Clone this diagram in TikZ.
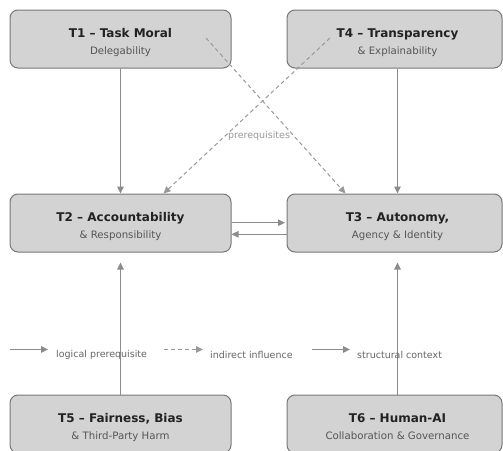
\documentclass[tikz,border=0pt]{standalone}
\usepackage{fontspec}
\setmainfont{DejaVu Sans}
\usetikzlibrary{arrows.meta,calc}
\definecolor{boxfill}{HTML}{D3D3D3}
\definecolor{boxline}{HTML}{777777}
\definecolor{arr}{HTML}{8C8C8C}
\definecolor{ttl}{HTML}{222222}
\definecolor{subc}{HTML}{555555}
\definecolor{lgd}{HTML}{666666}
\definecolor{prq}{HTML}{999999}
\begin{document}
\begin{tikzpicture}[x=1pt,y=-1pt,
  box/.style={draw=boxline, fill=boxfill, rounded corners=8pt, line width=1pt,
    minimum height=58pt, inner sep=0pt},
  lbox/.style={box, minimum width=221pt},
  rbox/.style={box, minimum width=215pt},
  ttlt/.style={anchor=base, inner sep=0pt, text=ttl, font=\fontsize{12}{14}\selectfont\bfseries},
  subt/.style={anchor=base, inner sep=0pt, text=subc, font=\fontsize{10.2}{12}\selectfont},
  lgdt/.style={anchor=west, inner sep=0pt, text=lgd, font=\fontsize{9.5}{11}\selectfont},
  conn/.style={draw=arr, line width=1.1pt, -{Triangle[length=7pt,width=6.5pt]}},
  dconn/.style={draw=prq, line width=1pt, dash pattern=on 4pt off 3pt, -{Triangle[length=7pt,width=6.5pt]}},
]
\useasboundingbox (0,0) rectangle (503,450);
\clip (0,0) rectangle (503,450);
\fill[white] (0,0) rectangle (503,450);

% boxes
\node[lbox] (T1) at (120.5,39) {};
\node[rbox] (T4) at (394.5,39) {};
\node[lbox] (T2) at (120.5,223) {};
\node[rbox] (T3) at (394.5,223) {};
\node[lbox] (T5) at (120.5,424) {};
\node[rbox] (T6) at (394.5,424) {};

% texts
\node[ttlt] (T1a) at (120.5,37.8) {T1 – Task Moral};
\node[subt] (T1b) at (120.5,54.5) {Delegability};
\node[ttlt] (T4a) at (397.5,37.8) {T4 – Transparency};
\node[subt] (T4b) at (397.5,54.5) {\& Explainability};
\node[ttlt] (T2a) at (120.5,221) {T2 – Accountability};
\node[subt] (T2b) at (120.5,238) {\& Responsibility};
\node[ttlt] (T3a) at (397.5,221) {T3 – Autonomy,};
\node[subt] (T3b) at (397.5,238) {Agency \& Identity};
\node[ttlt] (T5a) at (120.5,422) {T5 – Fairness, Bias};
\node[subt] (T5b) at (120.5,439) {\& Third-Party Harm};
\node[ttlt] (T6a) at (397.5,422) {T6 – Human-AI};
\node[subt] (T6b) at (397.5,439) {Collaboration \& Governance};

% solid connectors
\draw[conn] (T1.south) -- (T2.north);
\draw[conn] (T4.south -| T4a.base) -- (T3.north -| T4a.base);
\draw[conn] ($(T2.east)+(0,-0.3)$) -- ($(T3.west)+(-1.5,-0.3)$);
\draw[conn] ($(T3.west)+(0,11.3)$) -- ($(T2.east)+(0,11.3)$);
\draw[conn, shorten >=10pt] (T5.north) -- (T2.south);
\draw[conn, shorten >=10pt] (T6.north -| T6a.base) -- (T3.south -| T6a.base);

% dashed connectors
\coordinate (d1) at (206,38);
\coordinate (d4) at (330,38);
\draw[dconn] (d1) -- ($(T3.north west)+(59,0)$);
\draw[dconn] (d4) -- ($(T2.north east)+(-68,0)$);
\node[inner sep=0pt, text=prq, font=\fontsize{9.5}{11}\selectfont] (pq) at (259,136) {prerequisites};

% legend
\coordinate (l1a) at (10,349.5);
\coordinate (l1b) at (48,349.5);
\coordinate (l2a) at (164,349.5);
\coordinate (l2b) at (203,349.5);
\coordinate (l3a) at (312,349.5);
\coordinate (l3b) at (350,349.5);
\draw[conn] (l1a) -- (l1b);
\draw[dconn] (l2a) -- (l2b);
\draw[conn] (l3a) -- (l3b);
\node[lgdt] (lg1) at (56,355) {logical prerequisite};
\node[lgdt] (lg2) at (210,355) {indirect influence};
\node[lgdt] (lg3) at (357,355) {structural context};
\end{tikzpicture}
\end{document}
